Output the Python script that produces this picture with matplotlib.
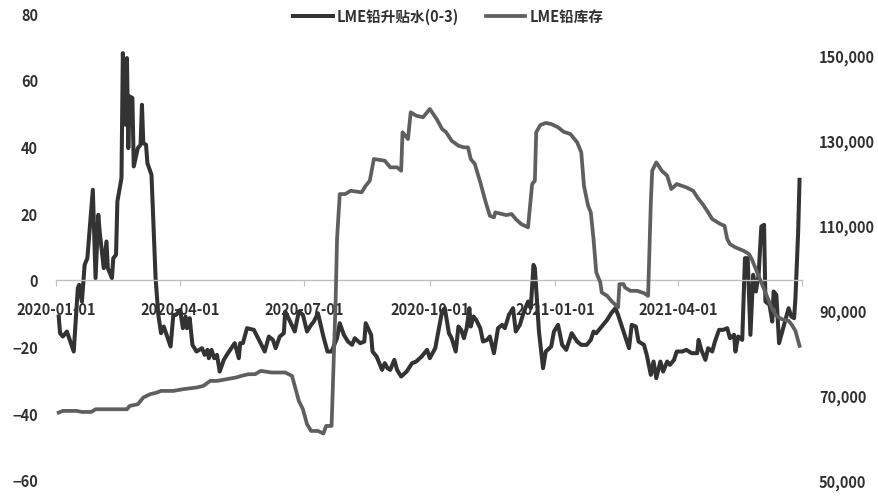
import matplotlib
matplotlib.use('Agg')
import matplotlib.pyplot as plt
from matplotlib.ticker import FuncFormatter
import pandas as pd

plt.rcParams['font.family'] = ['Noto Sans CJK SC', 'DejaVu Sans']
plt.rcParams['font.weight'] = 'bold'

START = pd.Timestamp('2020-01-01')

# LME lead cash-3M spread, days since 2020-01-01
spread_days = [2, 3, 5, 8, 13, 16, 17, 19, 21, 23, 27, 29, 31, 32, 35, 37, 38, 41, 42, 44,
               45, 48, 49, 51, 52, 53, 54, 56, 57, 60, 62, 63, 64, 66, 67, 70, 73, 75, 77, 79,
               84, 86, 88, 91, 93, 95, 96, 98, 100, 103, 107, 109, 111, 112, 114, 116, 118, 120, 123, 126,
               131, 134, 135, 137, 140, 145, 150, 153, 156, 159, 161, 164, 167, 168, 171, 175, 178, 181, 184, 187,
               189, 192, 194, 196, 199, 202, 206, 208, 211, 214, 217, 219, 223, 226, 227, 231, 232, 235, 239, 241,
               243, 245, 248, 250, 253, 257, 261, 264, 268, 272, 274, 278, 280, 283, 285, 288, 290, 293, 295, 297,
               299, 301, 303, 304, 306, 308, 311, 313, 316, 318, 321, 324, 327, 329, 332, 335, 337, 340, 343, 346,
               348, 350, 351, 354, 357, 359, 363, 365, 368, 371, 374, 378, 382, 385, 389, 392, 394, 396, 400, 404,
               407, 410, 412, 414, 416, 420, 422, 425, 427, 431, 433, 436, 438, 440, 443, 445, 448, 450, 453, 455,
               459, 462, 466, 470, 471, 473, 476, 478, 481, 483, 486, 489, 492, 494, 497, 498, 500, 503, 505, 507,
               509, 511, 513, 515, 517, 519, 520, 523, 525, 526, 528, 530, 533, 535, 537, 539, 541, 542, 544, 545]
spread_vals = [-11, -16, -17, -15.5, -21.5, -2.5, -1.5, -6.5, 4.5, 6.5, 27, 0.5, 19.5, 14.5, 3.5, 11.5, 3.5, 0.5, 6.5, 7.5,
               23.5, 30.5, 68, 46.5, 66.5, 39.5, 55, 54.5, 34, 39.5, 40.5, 52.5, 41, 40.5, 35, 31.5, 0.5, -10.5, -16, -14,
               -20, -10.5, -10.5, -9, -14.5, -11, -14.5, -11.5, -19.5, -21.5, -20.5, -22.5, -21, -23.5, -21, -23.5, -22.5, -27.5, -24, -22,
               -19, -23.5, -19, -19, -14.5, -15, -19, -21.5, -17, -18, -20.5, -17, -16, -9.5, -12, -15.5, -9.5, -10.5, -15.5, -13.5,
               -12.5, -10, -13.5, -17, -21.5, -21.5, -17.5, -13, -16.5, -18.5, -19.5, -17.5, -19, -18.5, -13, -16.5, -21.5, -23, -27, -25,
               -26.5, -27, -24, -27, -29, -27.5, -25, -24.5, -23, -21, -23.5, -20.5, -16, -9.5, -8.5, -16, -17.5, -21.5, -14, -15,
               -17.5, -14.5, -8.5, -14, -11, -12, -14.5, -18.5, -18, -17, -22, -14.5, -13.5, -14.5, -10.5, -8.5, -15.5, -13.5, -9.5, -6.5,
               -8.5, 4.5, 3.5, -15.5, -26.5, -21.5, -20, -15.5, -13.5, -19.5, -21, -16, -18.5, -19.5, -19.5, -18, -15.5, -16, -14, -12,
               -10, -8.5, -10.5, -13, -15.5, -20.5, -13.5, -14, -18.5, -19.5, -22.5, -28.5, -24.5, -29.5, -24.5, -27.5, -24.5, -25.5, -24, -21.5,
               -21.5, -21, -22, -22, -18, -21, -24, -20.5, -21.5, -18.5, -15, -15, -14.5, -17.5, -16.5, -21.5, -17, -18, 6.5, 6.5,
               -16.5, 1.5, -3.5, 1.5, 16, 16.5, -6.5, -7.5, -12.5, -3.5, -4.5, -19, -14.5, -11.5, -8.5, -11, -11.5, -5.5, 14.5, 30]

# LME lead stocks (tonnes), days since 2020-01-01
stock_days = [2, 5, 15, 19, 26, 29, 52, 54, 60, 64, 69, 74, 77, 86, 93, 103, 108, 113, 118, 125,
              132, 136, 141, 146, 150, 158, 168, 173, 175, 178, 181, 184, 187, 192, 196, 198, 202, 205, 206, 208,
              212, 216, 224, 227, 230, 233, 241, 245, 250, 253, 254, 258, 260, 264, 269, 274, 279, 283, 286, 290,
              295, 299, 302, 304, 307, 311, 315, 318, 321, 322, 327, 330, 334, 337, 341, 346, 349, 351, 352, 355,
              359, 363, 368, 372, 377, 382, 385, 387, 390, 392, 394, 396, 399, 400, 404, 407, 412, 413, 416, 417,
              421, 426, 431, 434, 436, 437, 440, 444, 448, 451, 455, 462, 467, 471, 474, 478, 481, 483, 487, 490,
              492, 494, 498, 504, 508, 510, 514, 517, 521, 525, 528, 532, 537, 539, 542, 545]
stock_vals = [65870, 66260, 66260, 66020, 66020, 66650, 66650, 67430, 67830, 69420, 70190, 70590, 70970, 70970, 71370, 71770, 72150, 73330, 73330, 73730,
              74130, 74510, 74910, 74910, 75690, 75310, 75310, 74510, 72150, 68610, 66650, 63120, 61540, 61540, 60930, 62720, 62720, 92590, 106740, 117350,
              117350, 118130, 117750, 119310, 120490, 125610, 125210, 123650, 123650, 122850, 131900, 130320, 136620, 135820, 135440, 137400, 135040, 132680, 131900, 129920,
              128740, 128360, 128360, 125610, 124430, 120110, 115400, 112240, 111860, 113040, 112640, 112400, 112640, 111460, 110280, 109500, 119710, 120490, 131900, 133620,
              134100, 133860, 133080, 132040, 131500, 129540, 127190, 119310, 114590, 113040, 106740, 98890, 96530, 94170, 93370, 92190, 90640, 96130, 96130, 95350,
              94550, 94550, 94010, 93370, 115400, 122850, 124830, 122850, 121670, 118530, 119710, 118930, 118130, 116170, 114990, 113040, 111460, 111060, 110280, 109880,
              106740, 105560, 104790, 103980, 103200, 102020, 98890, 96530, 93370, 90240, 88660, 87880, 87480, 86700, 85120, 81580]

tick_dates = ['2020-01-01', '2020-04-01', '2020-07-01', '2020-10-01', '2021-01-01', '2021-04-01', '2021-07-01']
tick_labels = ['2020-01-01', '2020-04-01', '2020-07-01', '2020-10-01', '2021-01-01', '2021-04-01', '']

spread_x = START + pd.to_timedelta(spread_days, unit='D')
stock_x = START + pd.to_timedelta(stock_days, unit='D')

TXT = '#303030'

fig = plt.figure(figsize=(8.79, 5.02), dpi=100)
ax1 = fig.add_axes([0.0637, 0.042, 0.849, 0.93])
ax2 = ax1.twinx()

l1, = ax1.plot(spread_x, spread_vals, color='#333333', lw=2.9, label='LME铅升贴水(0-3)', solid_joinstyle='round')
l2, = ax2.plot(stock_x, stock_vals, color='#5f5f5f', lw=2.7, label='LME铅库存', solid_joinstyle='round')

ax1.set_ylim(-60, 80)
ax1.set_yticks(range(-60, 81, 20))
ax2.set_ylim(50000, 160000)
ax2.set_yticks(range(50000, 150001, 20000))
ax2.yaxis.set_major_formatter(FuncFormatter(lambda v, p: f'{int(v):,}'))

ax1.set_xlim(pd.Timestamp('2020-01-01'), pd.Timestamp('2021-07-01'))
ax1.set_xticks(pd.to_datetime(tick_dates))
ax1.set_xticklabels(tick_labels)

for ax in (ax1, ax2):
    for s in ('top', 'left', 'right', 'bottom'):
        ax.spines[s].set_visible(False)
ax1.spines['bottom'].set_visible(True)
ax1.spines['bottom'].set_position(('data', 0))
ax1.spines['bottom'].set_color('#c0c0c0')
ax1.spines['bottom'].set_linewidth(1.0)

ax1.tick_params(axis='x', direction='out', length=4, color='#c0c0c0', pad=11, labelsize=10.5, labelcolor=TXT)
ax1.tick_params(axis='y', length=0, pad=13, labelsize=10.5, labelcolor=TXT)
ax2.tick_params(axis='y', length=0, pad=12, labelsize=10.5, labelcolor=TXT)
ax2.tick_params(axis='x', length=0)

fig.legend(handles=[l1, l2], loc='center', bbox_to_anchor=(0.51, 0.966), ncol=2, frameon=False,
           fontsize=10.5, handlelength=2.7, columnspacing=1.8, handletextpad=0.3,
           labelcolor=TXT)

fig.savefig('out.png', dpi=100)
